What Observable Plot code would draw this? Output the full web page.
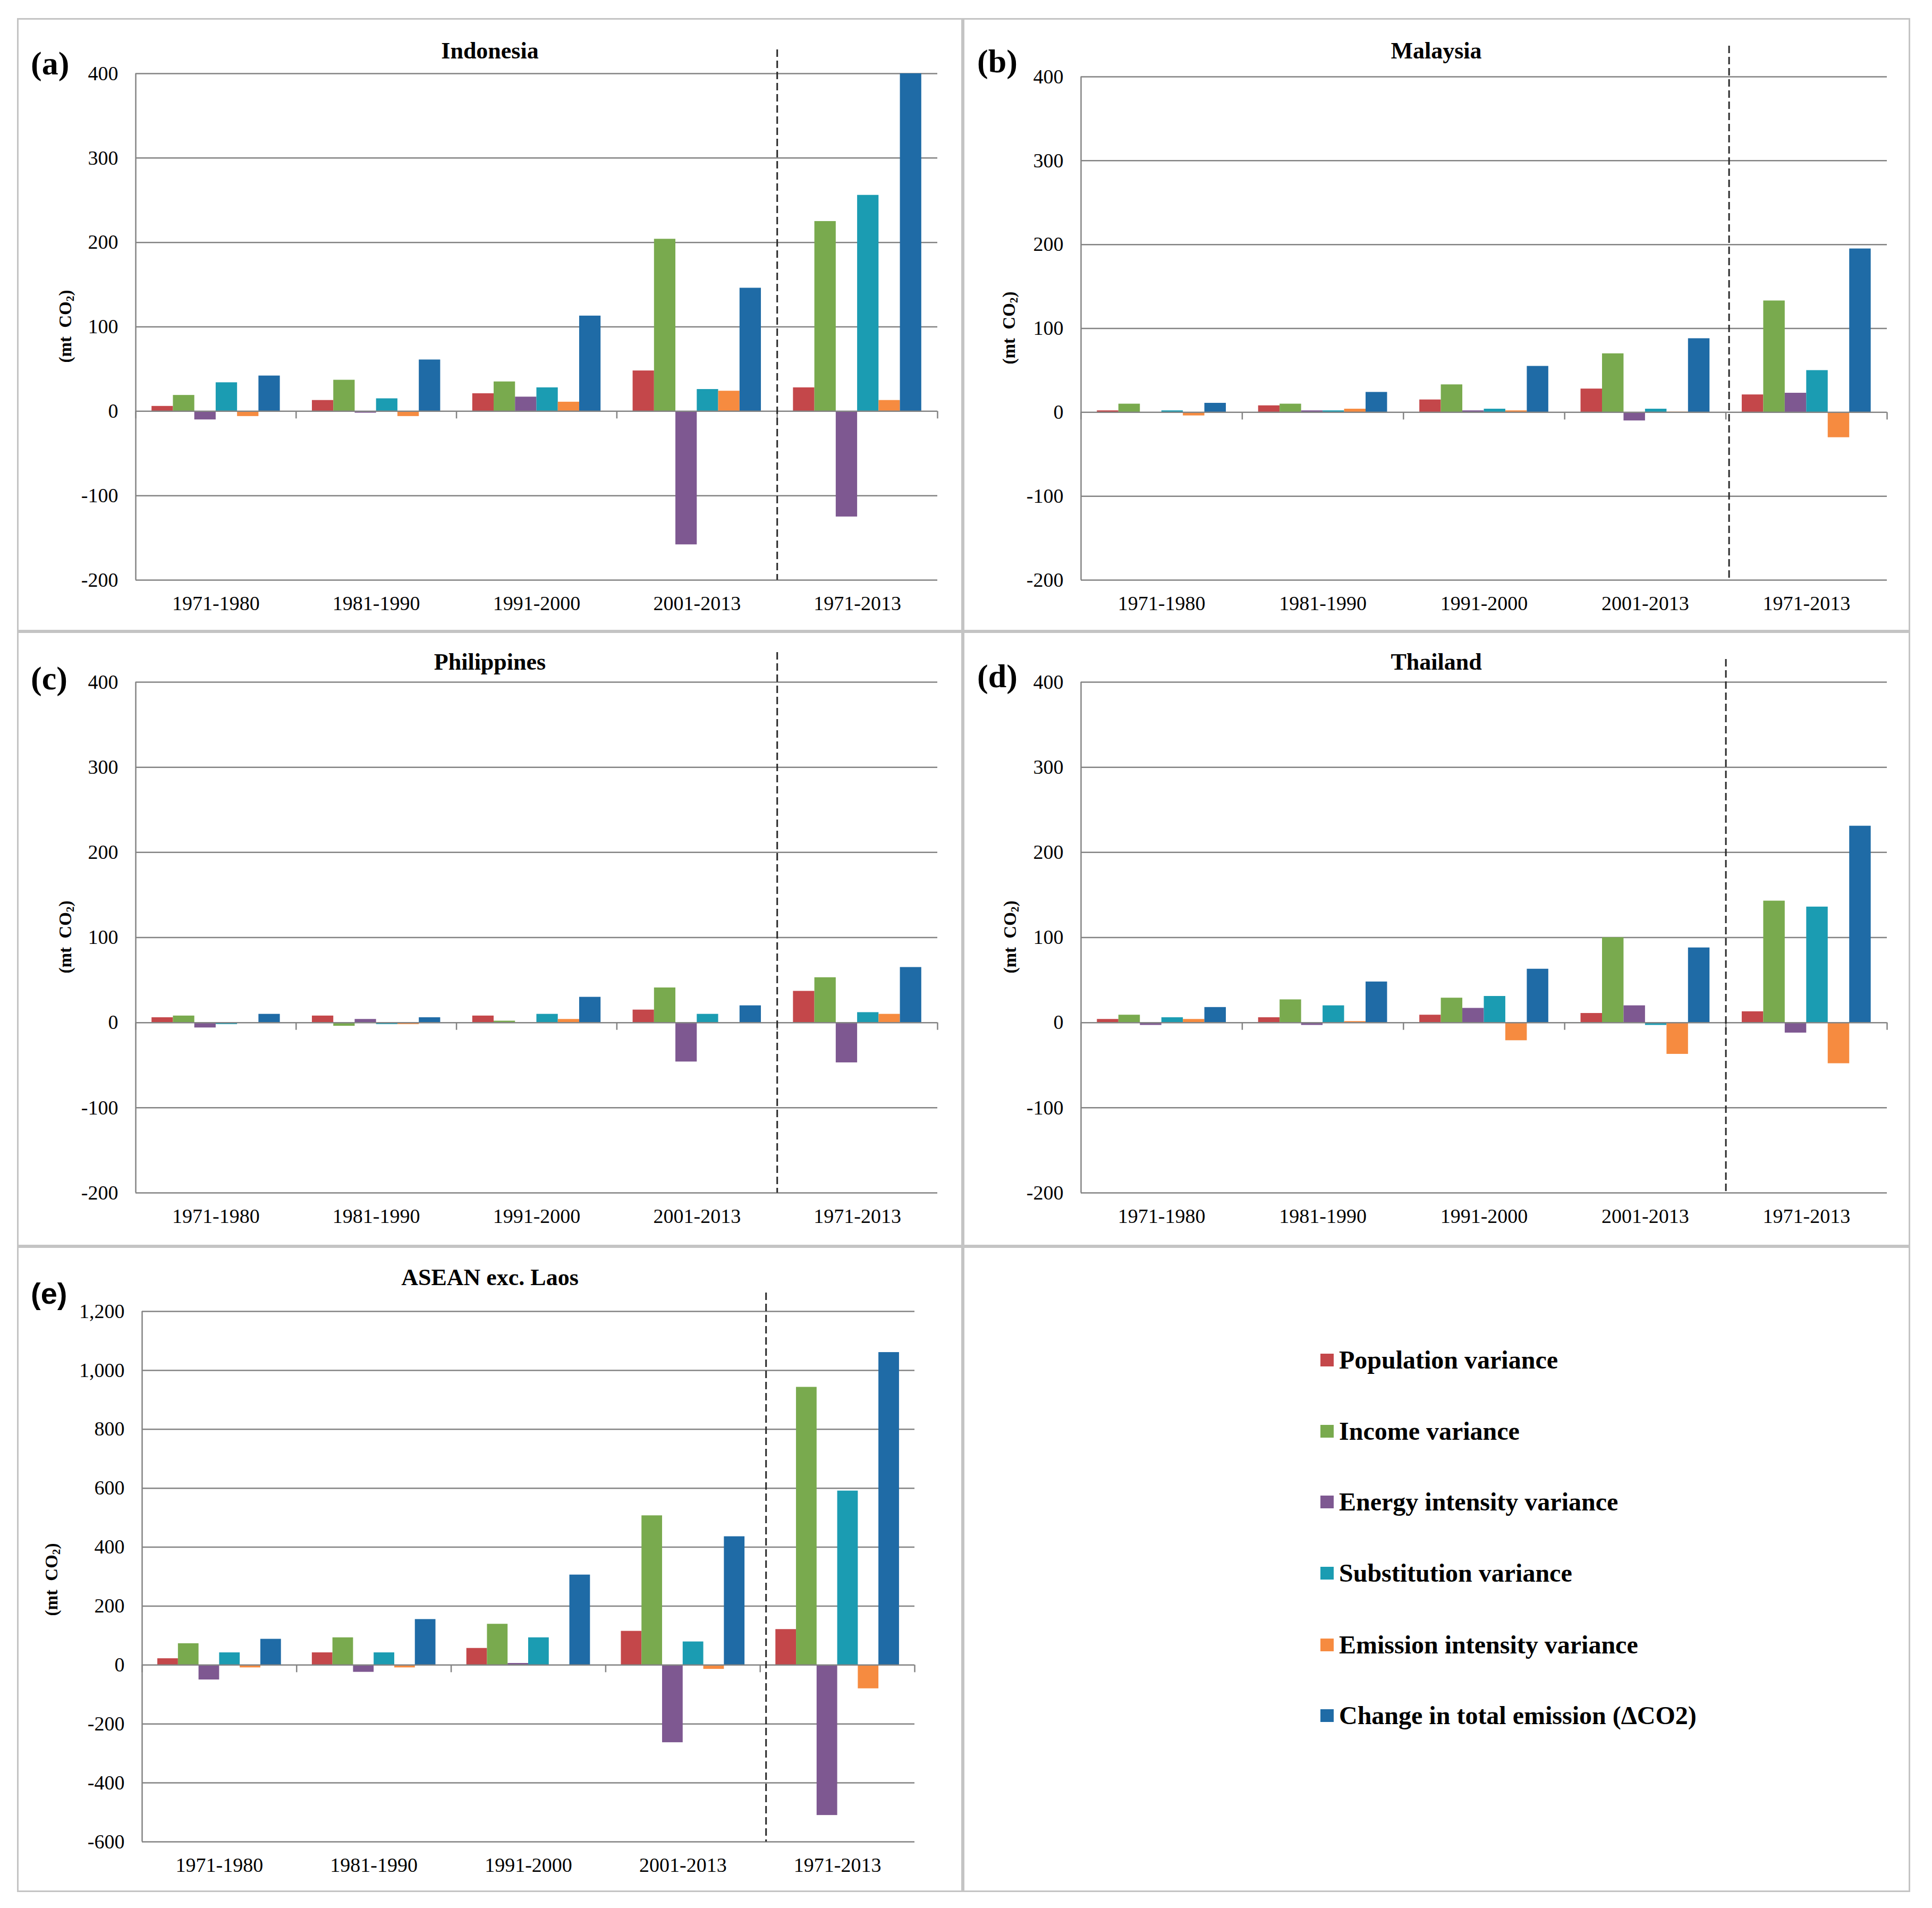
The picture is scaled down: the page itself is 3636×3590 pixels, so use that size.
<!DOCTYPE html>
<html>
<head>
<meta charset="utf-8">
<script src="https://cdn.jsdelivr.net/npm/d3@7"></script>
<script src="https://cdn.jsdelivr.net/npm/@observablehq/plot@0.6"></script>
<style>
  html, body { margin: 0; padding: 0; background: #fff; }
  #root { position: relative; width: 3636px; height: 3590px; background: #fff; overflow: hidden; }
  .box { position: absolute; border: 3px solid #c4c4c4; box-sizing: border-box; }
  .txt { position: absolute; white-space: nowrap; line-height: 1; color: #000; }
  .title { font-family: "Liberation Serif", serif; font-weight: bold; font-size: 44px; transform: translate(-50%, -50%); }
  .letter { font-family: "Liberation Serif", serif; font-weight: bold; font-size: 62px; transform: translateY(-50%); }
  .letter.sans { font-family: "Liberation Sans", "DejaVu Sans", sans-serif; font-size: 56px; }
  .ylab { font-family: "Liberation Serif", serif; font-weight: bold; font-size: 33px; transform: translate(-50%, -50%) rotate(-90deg); }
  .ylab sub { font-size: 0.65em; vertical-align: -0.25em; }
  .leg { position: absolute; font-family: "Liberation Serif", serif; font-weight: bold; font-size: 48px; line-height: 1; white-space: nowrap; transform: translateY(-50%); display: flex; align-items: center; }
  .sw { display: inline-block; width: 25px; height: 24px; margin-right: 10px; }
  svg.panel { position: absolute; overflow: visible; }
</style>
</head>
<body>
<div id="root"></div>
<script>
// ---------------- DATA ----------------
const periods = ["1971-1980", "1981-1990", "1991-2000", "2001-2013", "1971-2013"];
const seriesNames = [
  "Population variance",
  "Income variance",
  "Energy intensity variance",
  "Substitution variance",
  "Emission intensity variance",
  "Change in total emission (\u0394CO2)"
];
const seriesColors = ["#C4474A", "#79AA4E", "#7E5891", "#1B9CB2", "#F68B40", "#1F6BA6"];

const ticksCountry = [-200, -100, 0, 100, 200, 300, 400];
const ticksAsean = [-600, -400, -200, 0, 200, 400, 600, 800, 1000, 1200];

// rows follow seriesNames, columns follow periods
const indonesiaValues = [
  [6, 13, 21, 48, 28],
  [19, 37, 35, 204, 225],
  [-10, -2, 17, -158, -125],
  [34, 15, 28, 26, 256],
  [-6, -6, 11, 24, 13],
  [42, 61, 113, 146, 400]
];
const malaysiaValues = [
  [2, 8, 15, 28, 21],
  [10, 10, 33, 70, 133],
  [0, 2, 2, -10, 23],
  [2, 2, 4, 4, 50],
  [-4, 4, 2, 0.5, -30],
  [11, 24, 55, 88, 195]
];
const philippinesValues = [
  [6, 8, 8, 15, 37],
  [8, -4, 2, 41, 53],
  [-6, 4, -0.5, -46, -47],
  [-2, -2, 10, 10, 12],
  [-0.5, -2, 4, 0, 10],
  [10, 6, 30, 20, 65]
];
const thailandValues = [
  [4, 6, 9, 11, 13],
  [9, 27, 29, 100, 143],
  [-3, -3, 17, 20, -12],
  [6, 20, 31, -3, 136],
  [4, 1.5, -21, -37, -48],
  [18, 48, 63, 88, 231]
];
const aseanValues = [
  [22, 42, 57, 115, 121],
  [73, 93, 139, 507, 943],
  [-50, -24, 6, -263, -510],
  [42, 42, 93, 79, 591],
  [-9, -9, -2, -14, -80],
  [88, 155, 306, 436, 1061]
];

// ---------------- LAYOUT (page pixels) ----------------
const panels = [
  {letter: "(a)", title: "Indonesia", values: indonesiaValues, ticks: ticksCountry,
   region: [32, 34, 1780, 1154], plot: [255, 138, 1764, 1091], dashTop: -45, dashDx: 0,
   titlePos: [922, 96], letterPos: [58, 119], ylabPos: [125, 614], sans: false},
  {letter: "(b)", title: "Malaysia", values: malaysiaValues, ticks: ticksCountry,
   region: [1812, 34, 1783, 1154], plot: [2034, 144, 3551, 1091], dashTop: -58, dashDx: 6,
   titlePos: [2703, 96], letterPos: [1839, 115], ylabPos: [1901, 617], sans: false},
  {letter: "(c)", title: "Philippines", values: philippinesValues, ticks: ticksCountry,
   region: [32, 1188, 1780, 1157], plot: [255, 1283, 1764, 2244], dashTop: -56, dashDx: 0,
   titlePos: [922, 1246], letterPos: [58, 1276], ylabPos: [125, 1763], sans: false},
  {letter: "(d)", title: "Thailand", values: thailandValues, ticks: ticksCountry,
   region: [1812, 1188, 1783, 1157], plot: [2034, 1283, 3551, 2244], dashTop: -43, dashDx: 0,
   titlePos: [2703, 1246], letterPos: [1839, 1272], ylabPos: [1903, 1763], sans: false},
  {letter: "(e)", title: "ASEAN exc. Laos", values: aseanValues, ticks: ticksAsean,
   region: [32, 2345, 1780, 1215], plot: [267, 2467, 1721, 3465], dashTop: -35, dashDx: 11,
   titlePos: [922, 2404], letterPos: [58, 2434], ylabPos: [99, 2972], sans: true}
];
const legendBox = [1812, 2345, 1783, 1215];
const legendRows = [2559, 2693, 2826, 2960, 3095, 3228];
const legendLeft = 2485;

const gridColor = "#838383";
const root = document.getElementById("root");

function addText(cls, html, x, y) {
  const d = document.createElement("div");
  d.className = "txt " + cls;
  d.style.left = x + "px";
  d.style.top = y + "px";
  d.innerHTML = html;
  root.appendChild(d);
  return d;
}
function addBox(r) {
  const b = document.createElement("div");
  b.className = "box";
  b.style.left = r[0] + "px"; b.style.top = r[1] + "px";
  b.style.width = r[2] + "px"; b.style.height = r[3] + "px";
  root.appendChild(b);
}

const nS = seriesNames.length;
const slot = nS + 1.5; // Excel gap width 150%

for (const p of panels) {
  addBox(p.region);
  const [rx, ry, rw, rh] = p.region;
  const [pl, pt, pr, pb] = p.plot;
  const rows = [];
  p.values.forEach((arr, si) => arr.forEach((v, pi) => rows.push({
    series: seriesNames[si], si, period: periods[pi], pi, value: v
  })));
  const yMin = d3.min(p.ticks), yMax = d3.max(p.ticks);
  const chart = Plot.plot({
    width: rw, height: rh,
    marginLeft: pl - rx, marginRight: rx + rw - pr,
    marginTop: pt - ry, marginBottom: ry + rh - pb,
    style: {fontFamily: "'Liberation Serif', serif", fontSize: "38px", color: "#000", background: "transparent", overflow: "visible"},
    x: {type: "linear", domain: [0, periods.length],
        ticks: periods.map((_, i) => i + 0.5),
        tickFormat: d => periods[Math.floor(d)],
        tickSize: 0, tickPadding: 30, label: null},
    y: {domain: [yMin, yMax], ticks: p.ticks,
        tickFormat: d => d.toLocaleString("en-US"),
        tickSize: 0, tickPadding: 33, label: null},
    color: {domain: seriesNames, range: seriesColors},
    marks: [
      Plot.ruleY(p.ticks.filter(t => t !== 0), {y: d => d, stroke: gridColor, strokeWidth: 2.5}),
      Plot.rect(rows, {
        x1: d => d.pi + (0.75 + d.si) / slot,
        x2: d => d.pi + (0.75 + d.si + 1) / slot,
        y1: 0, y2: "value", fill: "series"
      }),
      Plot.ruleY([0], {y: d => d, stroke: gridColor, strokeWidth: 2.5}),
      Plot.ruleX([0], {x: d => d, y1: yMin, y2: yMax, stroke: gridColor, strokeWidth: 2.5}),
      Plot.ruleX(d3.range(periods.length + 1), {x: d => d, y1: 0, y2: 0, insetBottom: -14, stroke: gridColor, strokeWidth: 2.5}),
      Plot.ruleX([periods.length - 1], {x: d => d, y1: yMax, y2: yMin, insetTop: p.dashTop, dx: p.dashDx,
        stroke: "#2a2a2a", strokeWidth: 3, strokeDasharray: "14,7"})
    ]
  });
  chart.classList.add("panel");
  chart.style.left = rx + "px";
  chart.style.top = ry + "px";
  root.appendChild(chart);

  addText("title", p.title, p.titlePos[0], p.titlePos[1]);
  addText("letter" + (p.sans ? " sans" : ""), p.letter, p.letterPos[0], p.letterPos[1]);
  addText("ylab", "(mt&nbsp;&nbsp;CO<sub>2</sub>)", p.ylabPos[0], p.ylabPos[1]);
}

addBox(legendBox);
seriesNames.forEach((name, i) => {
  const d = document.createElement("div");
  d.className = "leg";
  d.style.left = legendLeft + "px";
  d.style.top = legendRows[i] + "px";
  const sw = document.createElement("span");
  sw.className = "sw";
  sw.style.background = seriesColors[i];
  const t = document.createElement("span");
  t.textContent = name;
  d.appendChild(sw); d.appendChild(t);
  root.appendChild(d);
});
</script>
</body>
</html>
